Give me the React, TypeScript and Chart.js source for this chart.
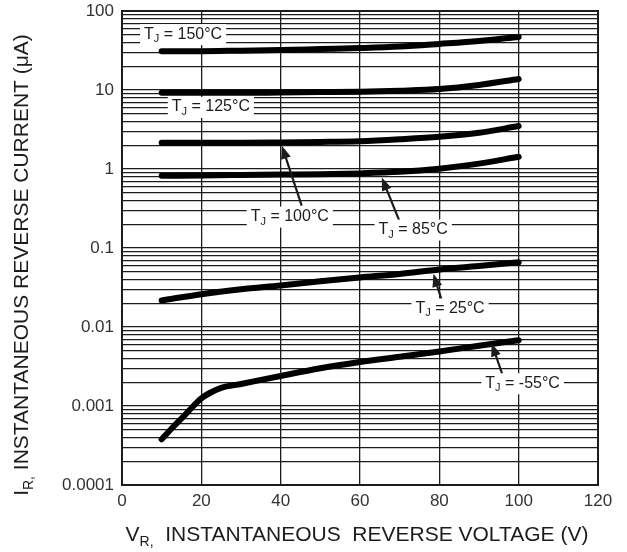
import React, { useEffect, useRef } from 'react';
import { Chart, registerables } from 'chart.js';

Chart.register(...registerables);

// ---- Data ----
const voltages = [10, 20, 30, 40, 50, 60, 70, 80, 90, 100];
const current150 = [31, 31, 31.5, 32, 33, 34, 35.5, 38.3, 41.7, 47];
const current125 = [9.2, 9.2, 9.2, 9.3, 9.4, 9.5, 9.8, 10.3, 11.6, 13.8];
const current100 = [2.15, 2.15, 2.15, 2.17, 2.2, 2.25, 2.38, 2.56, 2.88, 3.5];
const current85 = [0.82, 0.83, 0.84, 0.85, 0.86, 0.88, 0.92, 1.01, 1.17, 1.43];
const current25 = [0.0217, 0.026, 0.03, 0.0336, 0.038, 0.0424, 0.047, 0.0535, 0.059, 0.066];
const voltagesM55 = [10, 13, 16, 18, 20, 22, 25, 30, 40, 50, 60, 70, 80, 90, 100];
const currentM55 = [0.00038, 0.00055, 0.00078, 0.001, 0.00125, 0.00145, 0.0017, 0.0019, 0.0024, 0.003, 0.0036, 0.0042, 0.0049, 0.0058, 0.0068];

const xTicks = [0, 20, 40, 60, 80, 100, 120];
const yDecades = [0.0001, 0.001, 0.01, 0.1, 1, 10, 100];

// Curve labels (data coordinates)
const labelTemps = ['150°C', '125°C', '100°C', '85°C', '25°C', '-55°C'];
const labelV = [15.4, 22.4, 42.3, 73.4, 82.7, 101];
const labelI = [51, 6.1, 0.25, 0.171, 0.0172, 0.00194];

// Arrows from labels to curves (data coordinates)
const arrowTailV = [45.3, 69.9, 80.6, 96.1];
const arrowTailI = [0.344, 0.222, 0.0217, 0.00233];
const arrowTipV = [40.3, 65.5, 78.5, 93.2];
const arrowTipI = [1.97, 0.78, 0.0472, 0.0062];

const FONT = '"Liberation Sans", Arial, Helvetica, sans-serif';
const INK = '#1c1c1c';

function drawSubText(
  ctx: CanvasRenderingContext2D,
  parts: { t: string; sub?: boolean }[],
  size: number,
  subSize: number,
  cx: number,
  cy: number,
  subShift: number
) {
  let total = 0;
  const widths: number[] = [];
  parts.forEach((p) => {
    ctx.font = `${p.sub ? subSize : size}px ${FONT}`;
    const w = ctx.measureText(p.t).width;
    widths.push(w);
    total += w;
  });
  let x = cx - total / 2;
  ctx.textAlign = 'left';
  ctx.textBaseline = 'middle';
  parts.forEach((p, i) => {
    ctx.font = `${p.sub ? subSize : size}px ${FONT}`;
    ctx.fillText(p.t, x, cy + (p.sub ? subShift : 0));
    x += widths[i];
  });
  return total;
}

const annotationPlugin = {
  id: 'annotations',
  beforeDatasetsDraw(chart: any) {
    const { ctx, chartArea } = chart;
    ctx.save();
    ctx.strokeStyle = INK;
    ctx.lineWidth = 2;
    ctx.strokeRect(chartArea.left, chartArea.top, chartArea.right - chartArea.left, chartArea.bottom - chartArea.top);
    ctx.restore();
  },
  afterDatasetsDraw(chart: any) {
    const { ctx } = chart;
    const xs = chart.scales.x;
    const ys = chart.scales.y;
    ctx.save();
    // arrows
    for (let i = 0; i < arrowTipV.length; i++) {
      const x1 = xs.getPixelForValue(arrowTailV[i]);
      const y1 = ys.getPixelForValue(arrowTailI[i]);
      const x2 = xs.getPixelForValue(arrowTipV[i]);
      const y2 = ys.getPixelForValue(arrowTipI[i]);
      const ang = Math.atan2(y2 - y1, x2 - x1);
      const head = 13;
      const hw = 5;
      ctx.strokeStyle = INK;
      ctx.lineWidth = 2.2;
      ctx.beginPath();
      ctx.moveTo(x1, y1);
      ctx.lineTo(x2 - Math.cos(ang) * head * 0.8, y2 - Math.sin(ang) * head * 0.8);
      ctx.stroke();
      ctx.fillStyle = INK;
      ctx.beginPath();
      ctx.moveTo(x2, y2);
      ctx.lineTo(x2 - Math.cos(ang) * head - Math.sin(ang) * hw, y2 - Math.sin(ang) * head + Math.cos(ang) * hw);
      ctx.lineTo(x2 - Math.cos(ang) * head + Math.sin(ang) * hw, y2 - Math.sin(ang) * head - Math.cos(ang) * hw);
      ctx.closePath();
      ctx.fill();
    }
    // labels
    for (let i = 0; i < labelTemps.length; i++) {
      const cx = xs.getPixelForValue(labelV[i]);
      const cy = ys.getPixelForValue(labelI[i]);
      const parts = [{ t: 'T' }, { t: 'J', sub: true }, { t: ' = ' + labelTemps[i] }];
      let total = 0;
      parts.forEach((p) => {
        ctx.font = `${p.sub ? 11 : 16}px ${FONT}`;
        total += ctx.measureText(p.t).width;
      });
      ctx.fillStyle = '#ffffff';
      ctx.fillRect(cx - total / 2 - 4, cy - 10, total + 8, 21);
      ctx.fillStyle = INK;
      drawSubText(ctx, parts, 16, 11, cx, cy, 5);
    }
    ctx.restore();
  },
  afterDraw(chart: any) {
    const { ctx, chartArea } = chart;
    ctx.save();
    ctx.fillStyle = INK;
    // x title
    drawSubText(
      ctx,
      [{ t: 'V' }, { t: 'R,', sub: true }, { t: '  INSTANTANEOUS  REVERSE VOLTAGE (V)' }],
      21,
      14,
      (chartArea.left + chartArea.right) / 2 - 3,
      535,
      7
    );
    // y title
    ctx.translate(22, 265);
    ctx.rotate(-Math.PI / 2);
    drawSubText(
      ctx,
      [{ t: 'I' }, { t: 'R,', sub: true }, { t: ' INSTANTANEOUS REVERSE CURRENT (μA)' }],
      21,
      14,
      0,
      0,
      7
    );
    ctx.restore();
  },
};

export default function App() {
  const canvasRef = useRef<HTMLCanvasElement | null>(null);

  useEffect(() => {
    if (!canvasRef.current) return;
    const line = (xv: number[], yv: number[]) => ({
      data: xv.map((v, i) => ({ x: v, y: yv[i] })),
      borderColor: '#000',
      borderWidth: 6,
      pointRadius: 0,
      cubicInterpolationMode: 'monotone' as const,
      borderCapStyle: 'round' as const,
      fill: false,
    });
    const chart = new Chart(canvasRef.current, {
      type: 'line',
      data: {
        datasets: [
          line(voltages, current150),
          line(voltages, current125),
          line(voltages, current100),
          line(voltages, current85),
          line(voltages, current25),
          line(voltagesM55, currentM55),
        ],
      },
      options: {
        responsive: false,
        animation: false,
        layout: { padding: { top: 11, right: 29, left: 0, bottom: 0 } },
        plugins: { legend: { display: false }, tooltip: { enabled: false } },
        scales: {
          x: {
            type: 'linear',
            min: 0,
            max: 120,
            afterBuildTicks: (s: any) => {
              s.ticks = xTicks.map((v) => ({ value: v }));
            },
            ticks: {
              font: { size: 17, family: FONT },
              color: '#333',
              padding: 6,
              autoSkip: false,
              maxRotation: 0,
            },
            grid: { color: INK, lineWidth: 1.3, drawTicks: false },
            border: { color: INK, width: 2 },
            afterFit: (s: any) => {
              s.height = 67;
              s.paddingLeft = 0;
              s.paddingRight = 0;
            },
          },
          y: {
            type: 'logarithmic',
            min: 0.0001,
            max: 100,
            afterBuildTicks: (s: any) => {
              const t: { value: number }[] = [];
              yDecades.forEach((d, di) => {
                if (di === yDecades.length - 1) {
                  t.push({ value: d });
                  return;
                }
                for (let m = 1; m <= 9; m++) t.push({ value: m * d });
              });
              s.ticks = t;
            },
            ticks: {
              autoSkip: false,
              font: { size: 17, family: FONT },
              color: '#333',
              padding: 8,
              callback: (value: any) => {
                const v = Number(value);
                const idx = yDecades.findIndex((d) => Math.abs(d - v) / d < 1e-6);
                return idx >= 0 ? String(yDecades[idx]) : '';
              },
            },
            grid: { color: INK, lineWidth: 1.3, drawTicks: false },
            border: { color: INK, width: 2 },
            afterFit: (s: any) => {
              s.width = 122;
              s.paddingTop = 0;
              s.paddingBottom = 0;
            },
          },
        },
      },
      plugins: [annotationPlugin],
    });
    return () => chart.destroy();
  }, []);

  return (
    <div style={{ position: 'fixed', left: 0, top: 0, width: 627, height: 552, background: '#fff' }}>
      <canvas ref={canvasRef} width={627} height={552} style={{ display: 'block' }} />
    </div>
  );
}
